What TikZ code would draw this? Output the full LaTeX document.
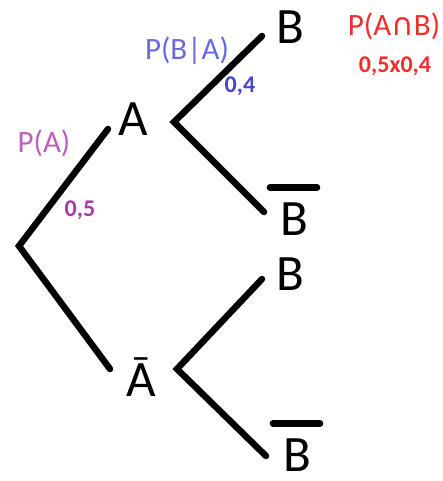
\documentclass[tikz,border=0pt]{standalone}
\usepackage{fontspec}
\setmainfont{Carlito}
\newfontfamily\symfont{DejaVu Sans}
\usetikzlibrary{positioning}
\definecolor{pviolet}{RGB}{190,95,190}
\definecolor{vviolet}{RGB}{165,60,165}
\definecolor{pblue}{RGB}{105,105,230}
\definecolor{vblue}{RGB}{70,70,200}
\definecolor{pred}{RGB}{240,45,45}

\begin{document}
\begin{tikzpicture}[x=1pt,y=-1pt,
      branch/.style={line width=6.5pt, line cap=round, line join=miter},
      event/.style={inner sep=0pt, font=\fontsize{51}{56}\selectfont},
      prob/.style={inner sep=0pt, font=\fontsize{31}{36}\selectfont},
      value/.style={inner sep=0pt, font=\fontsize{24}{28}\selectfont\bfseries}
    ]
    \useasboundingbox (0,0) rectangle (443,481);
    % events
    \node[event] (a) at (133,119) {A};
    \node[event] (abar) at (141,377) {Ā};
    \node[event] (b1) at (290,27) {B};
    \node[event] (b1bar) at (294,219) {B};
    \node[event] (b2) at (290,274) {B};
    \node[event] (b2bar) at (297,455) {B};
    % branch ends
    \coordinate (root) at (19,246);
    \coordinate (ra) at (108,129);
    \coordinate (rabar) at (110,369);
    \coordinate (av) at (174,122);
    \coordinate (ab) at (262,36);
    \coordinate (abbar) at (264,212);
    \coordinate (bv) at (177,369);
    \coordinate (bb) at (262,279);
    \coordinate (bbbar) at (266,456);
    \foreach \up/\vx/\down in {ra/root/rabar,ab/av/abbar,bb/bv/bbbar}{%
      \draw[branch] (\up) -- (\vx) -- (\down);
    }
    \foreach \ev in {b1bar,b2bar}{%
      \draw[branch] ([shift={(-10,-15)}]\ev.north west) -- ([shift={(9,-15)}]\ev.north east);
    }
    % probabilities
    \node[prob, text=pviolet] (pa) at (44,143) {P(A)};
    \node[value, text=vviolet] (va) at (80,210) {0,5};
    \node[prob, text=pblue] (pba) at (187,51) {P(B|A)};
    \node[value, text=vblue] (vba) at (240,86) {0,4};
    \node[prob, text=pred] (pab) at (394,26) {P(A{\symfont ∩}B)};
    \node[value, text=pred] (vab) at (395,66) {0,5x0,4};
  \end{tikzpicture}
\end{document}
